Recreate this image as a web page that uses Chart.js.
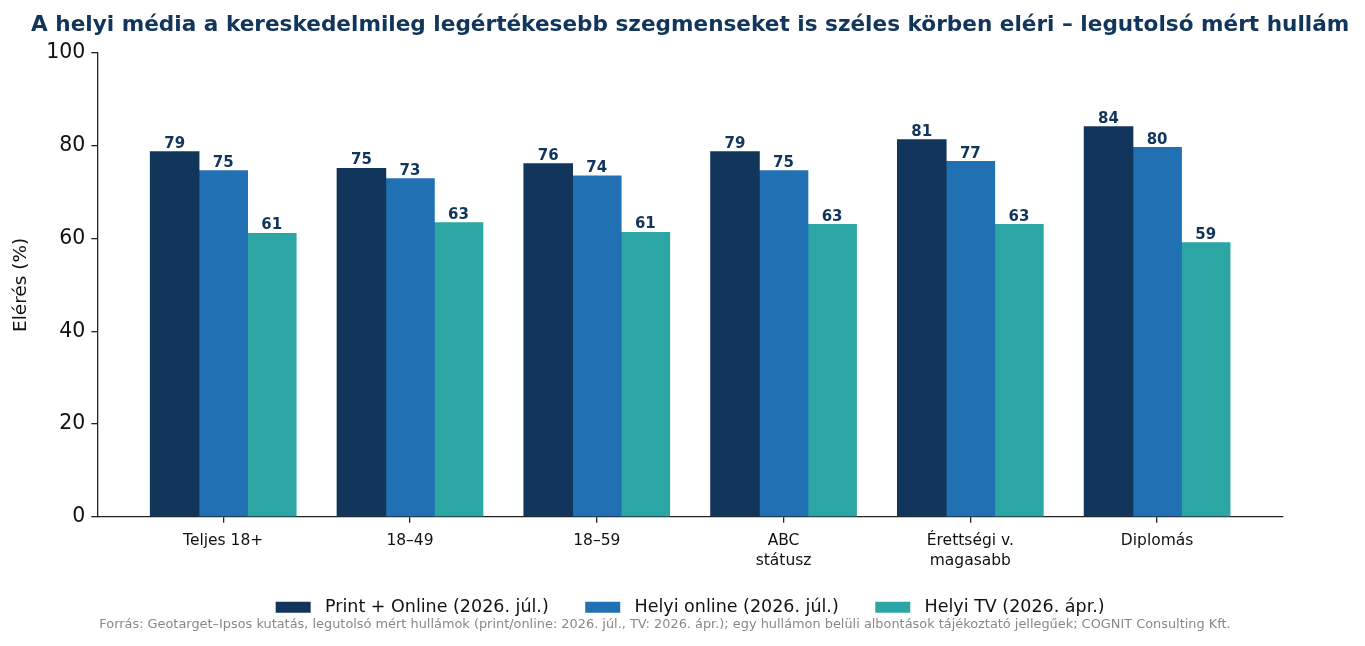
<!DOCTYPE html>
<html>
<head>
<meta charset="utf-8">
<script src="https://cdn.jsdelivr.net/npm/chart.js@4.4.1/dist/chart.umd.min.js"></script>
<style>
  html, body { margin: 0; padding: 0; background: #fff; }
  #wrap { width: 1365px; height: 646px; }
</style>
</head>
<body>
<div id="wrap"><canvas id="myChart"></canvas></div>
<script>
const categories = ['Teljes 18+', '18–49', '18–59', 'ABC\nstátusz', 'Érettségi v.\nmagasabb', 'Diplomás'];
const printOnline = [78.7, 75.1, 76.1, 78.7, 81.3, 84.1];
const helyiOnline = [74.6, 72.9, 73.5, 74.6, 76.6, 79.6];
const helyiTv = [61.1, 63.4, 61.3, 63.0, 63.0, 59.1];
const seriesNames = ['Print + Online (2026. júl.)', 'Helyi online (2026. júl.)', 'Helyi TV (2026. ápr.)'];
const seriesColors = ['#12355b', '#2170b4', '#2ca6a4'];
const yTicks = [0, 20, 40, 60, 80, 100];

const titleText = 'A helyi média a kereskedelmileg legértékesebb szegmenseket is széles körben eléri – legutolsó mért hullám';
const footerText = 'Forrás: Geotarget–Ipsos kutatás, legutolsó mért hullámok (print/online: 2026. júl., TV: 2026. ápr.); egy hullámon belüli albontások tájékoztató jellegűek; COGNIT Consulting Kft.';

Chart.defaults.font.family = "'DejaVu Sans', sans-serif";
Chart.defaults.color = '#111';

const toPoints = (arr) => arr.map((v, i) => ({ x: i, y: v }));

// value labels above bars
const barLabels = {
  id: 'barLabels',
  afterDatasetsDraw(chart) {
    const ctx = chart.ctx;
    ctx.save();
    ctx.font = "bold 15px 'DejaVu Sans'";
    ctx.fillStyle = '#12355b';
    ctx.textAlign = 'center';
    ctx.textBaseline = 'alphabetic';
    chart.data.datasets.forEach((ds, di) => {
      chart.getDatasetMeta(di).data.forEach((bar, i) => {
        ctx.fillText(Math.round(ds.data[i].y), bar.x, bar.y - 4);
      });
    });
    ctx.restore();
  }
};

// title (centred over the plot, not squeezed) and source line
const texts = {
  id: 'texts',
  afterDraw(chart) {
    const ctx = chart.ctx;
    const area = chart.chartArea;
    ctx.save();
    ctx.textAlign = 'center';
    ctx.textBaseline = 'middle';
    ctx.font = "bold 21.6px 'DejaVu Sans'";
    ctx.fillStyle = '#12355b';
    ctx.fillText(titleText, (area.left + area.right) / 2, 25);
    ctx.font = "12.9px 'DejaVu Sans'";
    ctx.fillStyle = '#888';
    ctx.fillText(footerText, 665, 625);
    ctx.restore();
  }
};

const data = {
  datasets: seriesNames.map((name, k) => ({
    label: name,
    data: toPoints([printOnline, helyiOnline, helyiTv][k]),
    backgroundColor: seriesColors[k],
    borderWidth: 0,
    inflateAmount: 0.5,
    categoryPercentage: 0.78,
    barPercentage: 1.0,
  })),
};

const config = {
  type: 'bar',
  data,
  plugins: [barLabels, texts],
  options: {
    responsive: true,
    maintainAspectRatio: false,
    animation: false,
    layout: { padding: { left: 6, right: 82, top: 53, bottom: 20 } },
    plugins: {
      title: { display: false },
      legend: {
        position: 'bottom',
        fullSize: false,
        labels: {
          boxWidth: 35,
          boxHeight: 11,
          padding: 19,
          color: '#111',
          font: { size: 17.5 },
          // a little more room between swatch and text, and between items
          generateLabels(chart) {
            const items = Chart.defaults.plugins.legend.labels.generateLabels(chart);
            items.forEach((it, i) => {
              it.text = ' ' + it.text + (i < items.length - 1 ? '\u2003' : '');
            });
            return items;
          },
        },
      },
      tooltip: { enabled: false },
    },
    scales: {
      x: {
        type: 'linear',
        offset: false,
        min: -0.674,
        max: 5.674,
        afterBuildTicks(scale) {
          scale.ticks = categories.map((c, i) => ({ value: i }));
        },
        ticks: {
          autoSkip: false,
          maxRotation: 0,
          font: { size: 15.5, lineHeight: 1.25 },
          color: '#111',
          padding: 9,
          callback: (value) => categories[value] !== undefined ? categories[value].split('\n') : '',
        },
        grid: { offset: false, drawOnChartArea: false, drawTicks: true, tickLength: 6, color: '#222', lineWidth: 1.3 },
        border: { display: true, color: '#222', width: 1.3 },
      },
      y: {
        min: 0,
        max: 100,
        afterBuildTicks(scale) {
          scale.ticks = yTicks.map((v) => ({ value: v }));
        },
        ticks: { font: { size: 20.5 }, color: '#111', padding: 6 },
        title: { display: true, text: 'Elérés (%)', font: { size: 18.5 }, color: '#111', padding: { bottom: 8 } },
        grid: { drawOnChartArea: false, drawTicks: true, tickLength: 6, color: '#222', lineWidth: 1.3 },
        border: { display: true, color: '#222', width: 1.3 },
      },
    },
  },
};

const ctx = document.getElementById('myChart').getContext('2d');
const myChart = new Chart(ctx, config);
</script>
</body>
</html>
